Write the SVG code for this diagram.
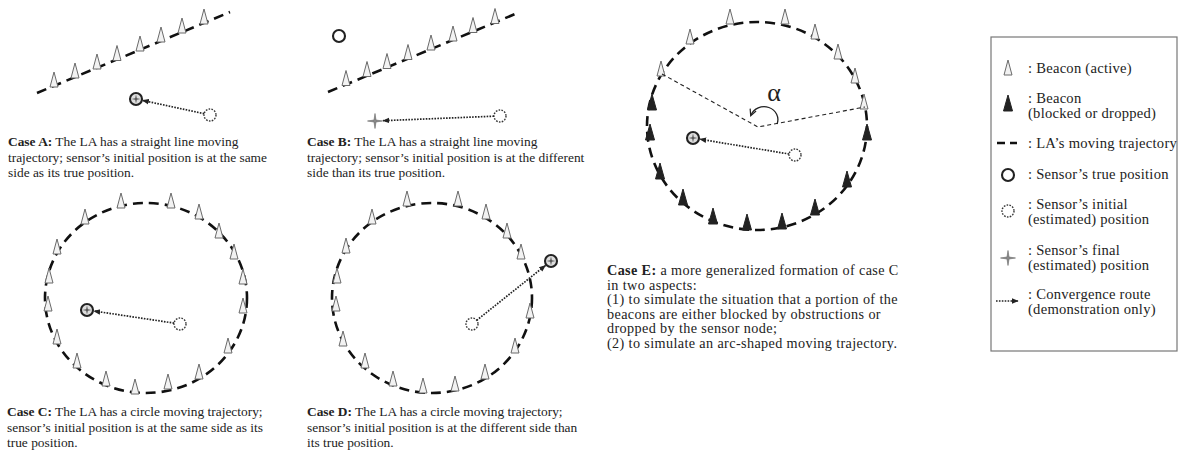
<svg xmlns="http://www.w3.org/2000/svg" xmlns:xlink="http://www.w3.org/1999/xlink" width="1184" height="460" viewBox="0 0 1184 460">
<style>
.cap{font-family:"Liberation Serif","Times New Roman",serif;font-size:13.4px;fill:#222}
.capE{font-family:"Liberation Serif","Times New Roman",serif;font-size:14.2px;letter-spacing:0.38px;fill:#222}
.leg{font-family:"Liberation Serif","Times New Roman",serif;font-size:14.6px;letter-spacing:0.25px;fill:#222}
.traj{fill:none;stroke:#111;stroke-width:2.6;stroke-dasharray:10 6}
.conv{fill:none;stroke:#222;stroke-width:1.7;stroke-dasharray:1.6 1.3}
.thin{fill:none;stroke:#222;stroke-width:1.1;stroke-dasharray:4 3}
</style>
<defs>
<marker id="ah" viewBox="0 0 10 10" refX="9" refY="5" markerUnits="userSpaceOnUse" markerWidth="7" markerHeight="7" orient="auto"><path d="M0,1 L10,5 L0,9 z" fill="#222"/></marker>
<marker id="ahc" viewBox="0 0 10 10" refX="8" refY="5" markerUnits="userSpaceOnUse" markerWidth="8" markerHeight="8" orient="auto"><path d="M1,1 L9,5 L1,9" fill="none" stroke="#222" stroke-width="1.5"/></marker>
<polygon id="bw" points="-4,0 4,0 0,-15" fill="#f2f2f2" stroke="#6a6a6a" stroke-width="1"/>
<polygon id="bk" points="-4.5,0 4.5,0 0,-16" fill="#222" stroke="#222" stroke-width="1"/>
<path id="star" d="M0,-7.5 L1,-1 L7.5,0 L1,1 L0,7.5 L-1,1 L-7.5,0 L-1,-1 Z" fill="#888" stroke="#666" stroke-width="0.6"/>
<g id="tp"><circle r="6" fill="#fff" stroke="#222" stroke-width="2.1"/></g>
<g id="tpx"><circle r="6" fill="#ddd" stroke="#222" stroke-width="2.1"/><path d="M0,-4.5 L0.8,-0.8 L4.5,0 L0.8,0.8 L0,4.5 L-0.8,0.8 L-4.5,0 L-0.8,-0.8 Z" fill="#555"/></g>
<g id="ip"><circle r="6" fill="#fff" stroke="#333" stroke-width="1.4" stroke-dasharray="1.6 1.3"/></g>
</defs>

<g id="case-a">
<line class="traj" x1="37" y1="93" x2="230" y2="12"/>
<use href="#bw" x="54" y="87"/><use href="#bw" x="75" y="78"/><use href="#bw" x="97" y="69"/><use href="#bw" x="117" y="60.5"/>
<use href="#bw" x="140" y="51"/><use href="#bw" x="161" y="42"/><use href="#bw" x="182" y="33"/><use href="#bw" x="204" y="24"/>
<use href="#tpx" x="136" y="99"/>
<use href="#ip" x="210" y="115"/>
<text class="cap" x="8" y="146"><tspan font-weight="bold">Case A:</tspan> The LA has a straight line moving</text>
<text class="cap" x="8" y="161.5">trajectory; sensor’s initial position is at the same</text>
<text class="cap" x="8" y="177">side as its true position.</text>
</g>

<g id="case-b">
<line class="traj" x1="328" y1="92" x2="520" y2="12"/>
<use href="#bw" x="346" y="85.5"/><use href="#bw" x="367" y="76.5"/><use href="#bw" x="387" y="68.5"/><use href="#bw" x="408" y="59.5"/>
<use href="#bw" x="431" y="50"/><use href="#bw" x="453" y="41"/><use href="#bw" x="473" y="32.5"/><use href="#bw" x="495" y="23.5"/>
<use href="#tp" x="339" y="36"/>
<use href="#ip" x="500" y="116"/>
<use href="#star" x="375" y="121"/>
<text class="cap" x="307" y="146"><tspan font-weight="bold">Case B:</tspan> The LA has a straight line moving</text>
<text class="cap" x="307" y="161.5">trajectory; sensor’s initial position is at the different</text>
<text class="cap" x="307" y="177">side than its true position.</text>
</g>

<g id="case-c">
<ellipse class="traj" cx="146" cy="298" rx="101" ry="95"/>
<use href="#bw" x="121" y="208"/><use href="#bw" x="171" y="208"/><use href="#bw" x="199" y="219"/><use href="#bw" x="219" y="238"/>
<use href="#bw" x="234" y="259"/><use href="#bw" x="243" y="284"/><use href="#bw" x="243" y="313"/><use href="#bw" x="228" y="353"/>
<use href="#bw" x="199" y="379"/><use href="#bw" x="168" y="389"/><use href="#bw" x="135" y="394"/><use href="#bw" x="106" y="386"/>
<use href="#bw" x="77" y="368"/><use href="#bw" x="57" y="344"/><use href="#bw" x="48" y="311"/><use href="#bw" x="49" y="283"/>
<use href="#bw" x="57" y="254"/><use href="#bw" x="85" y="224"/>
<use href="#tpx" x="87" y="310"/>
<use href="#ip" x="180" y="324"/>
<text class="cap" x="7" y="416"><tspan font-weight="bold">Case C:</tspan> The LA has a circle moving trajectory;</text>
<text class="cap" x="7" y="431.5">sensor’s initial position is at the same side as its</text>
<text class="cap" x="7" y="447">true position.</text>
</g>

<g id="case-d">
<ellipse class="traj" cx="432" cy="298" rx="100" ry="95"/>
<use href="#bw" x="407" y="206"/><use href="#bw" x="458" y="206"/><use href="#bw" x="486" y="219"/><use href="#bw" x="507" y="238"/>
<use href="#bw" x="521" y="259"/><use href="#bw" x="530" y="318"/><use href="#bw" x="515" y="353"/><use href="#bw" x="485" y="379"/>
<use href="#bw" x="455" y="391"/><use href="#bw" x="423" y="393"/><use href="#bw" x="393" y="386"/><use href="#bw" x="365" y="368"/>
<use href="#bw" x="343" y="346"/><use href="#bw" x="336" y="311"/><use href="#bw" x="337" y="283"/><use href="#bw" x="346" y="253"/>
<use href="#bw" x="372" y="224"/>
<use href="#tpx" x="551" y="261"/>
<use href="#ip" x="472" y="324"/>
<text class="cap" x="307" y="416"><tspan font-weight="bold">Case D:</tspan> The LA has a circle moving trajectory;</text>
<text class="cap" x="307" y="431.5">sensor’s initial position is at the different side than</text>
<text class="cap" x="307" y="447">its true position.</text>
</g>

<g id="case-e">
<ellipse class="traj" cx="757" cy="126" rx="110" ry="104"/>
<use href="#bw" x="690" y="44"/><use href="#bw" x="730" y="24"/><use href="#bw" x="785" y="24"/><use href="#bw" x="815" y="39"/>
<use href="#bw" x="838" y="59"/><use href="#bw" x="855" y="83"/><use href="#bw" x="864" y="109"/><use href="#bw" x="661" y="76"/>
<use href="#bk" x="652" y="110"/><use href="#bk" x="650" y="140"/><use href="#bk" x="660" y="179"/><use href="#bk" x="683" y="205"/>
<use href="#bk" x="713" y="224"/><use href="#bk" x="747" y="230"/><use href="#bk" x="782" y="229"/><use href="#bk" x="815" y="215"/>
<use href="#bk" x="847" y="187"/><use href="#bk" x="867" y="140"/>
<path class="thin" d="M662,74 L758,127 L865,107"/>
<path d="M777,124 A13,12 0 1 0 751,115" fill="none" stroke="#222" stroke-width="1.3" marker-end="url(#ahc)"/>
<text x="774" y="101" text-anchor="middle" font-family="Liberation Serif, serif" font-size="26" fill="#222">α</text>
<use href="#tpx" x="693" y="138"/>
<use href="#ip" x="795" y="155"/>
<text class="capE" x="607" y="275"><tspan font-weight="bold">Case E:</tspan> a more generalized formation of case C</text>
<text class="capE" x="607" y="289.5">in two aspects:</text>
<text class="capE" x="607" y="304">(1) to simulate the situation that a portion of the</text>
<text class="capE" x="607" y="318.5">beacons are either blocked by obstructions or</text>
<text class="capE" x="607" y="333">dropped by the sensor node;</text>
<text class="capE" x="607" y="347.5">(2) to simulate an arc-shaped moving trajectory.</text>
</g>

<g id="connectors">
<line class="conv" x1="204.2" y1="113.7" x2="142.6" y2="100.4" marker-end="url(#ah)"/>
<line class="conv" x1="494" y1="116.2" x2="383" y2="120.7" marker-end="url(#ah)"/>
<line class="conv" x1="174.1" y1="323.1" x2="93.9" y2="311" marker-end="url(#ah)"/>
<line class="conv" x1="476.7" y1="320.3" x2="545.5" y2="265.4" marker-end="url(#ah)"/>
<line class="conv" x1="789.1" y1="154" x2="699.9" y2="139.2" marker-end="url(#ah)"/>
</g>

<g id="legend">
<rect x="991" y="37" width="186" height="314" fill="#fff" stroke="#777" stroke-width="1.2"/>
<use href="#bw" x="1008" y="75"/>
<text class="leg" x="1028" y="73">: Beacon (active)</text>
<use href="#bk" x="1008" y="111"/>
<text class="leg" x="1028" y="103">: Beacon</text>
<text class="leg" x="1028" y="118">(blocked or dropped)</text>
<path d="M997,143 h8 M1010,143 h7" stroke="#111" stroke-width="2.6" fill="none"/>
<text class="leg" x="1028" y="148">: LA’s moving trajectory</text>
<use href="#tp" x="1008" y="175"/>
<text class="leg" x="1028" y="179">: Sensor’s true position</text>
<use href="#ip" x="1008" y="211"/>
<text class="leg" x="1028" y="209">: Sensor’s initial</text>
<text class="leg" x="1028" y="224">(estimated) position</text>
<use href="#star" x="1008" y="258"/>
<text class="leg" x="1028" y="255">: Sensor’s final</text>
<text class="leg" x="1028" y="270">(estimated) position</text>
<line class="conv" x1="996" y1="301" x2="1018" y2="301" marker-end="url(#ah)"/>
<text class="leg" x="1028" y="299">: Convergence route</text>
<text class="leg" x="1028" y="314">(demonstration only)</text>
</g>
</svg>
